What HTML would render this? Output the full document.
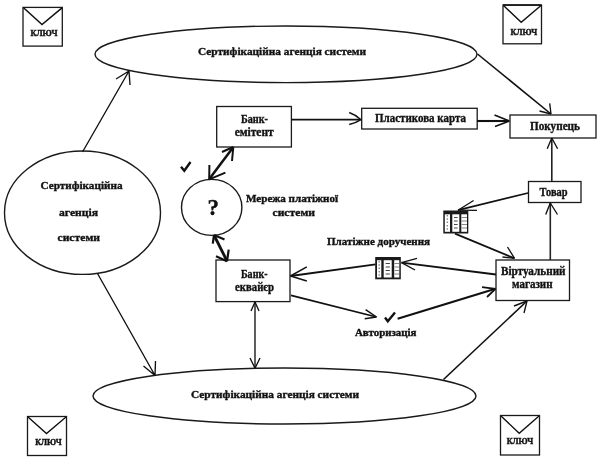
<!DOCTYPE html>
<html lang="uk">
<head>
<meta charset="utf-8">
<title>Схема платіжної системи</title>
<style>
html,body{margin:0;padding:0;background:#fff;}
body{width:600px;height:459px;overflow:hidden;}
svg{display:block;will-change:transform;}
text{font-family:"Liberation Serif",serif;font-weight:bold;font-size:11.5px;fill:#111;stroke:#111;stroke-width:0.35;}
.ln{stroke:#111;fill:none;stroke-width:1.35;}
.ln2{stroke:#111;fill:none;stroke-width:1.8;}
.ln3{stroke:#111;fill:none;stroke-width:2.5;}
.bx{stroke:#1a1a1a;fill:#fff;stroke-width:1.3;}
.el{stroke:#1a1a1a;fill:none;stroke-width:1.4;}
</style>
</head>
<body>
<svg width="600" height="459" viewBox="0 0 600 459">
<rect x="0" y="0" width="600" height="459" fill="#fff"/>

<!-- ellipses -->
<ellipse class="el" cx="286" cy="54.3" rx="191" ry="28.3"/>
<ellipse class="el" cx="284.500" cy="396" rx="191.500" ry="28"/>
<ellipse class="el" cx="82.5" cy="212.7" rx="78" ry="61.7"/>
<ellipse class="el" cx="211.7" cy="207.4" rx="30.2" ry="28"/>

<!-- envelopes -->
<g id="envTL">
<rect class="bx" x="23" y="7.400" width="39.300" height="38.700"/>
<polyline class="ln" style="stroke-width:1.5" points="23.500,7.800 42,24.500 62,7.800"/>
<text x="44" y="36" text-anchor="middle" textLength="27" lengthAdjust="spacingAndGlyphs" style="font-size:9px;stroke-width:0.45">КЛЮЧ</text>
</g>
<g id="envTR">
<rect class="bx" x="503" y="5.100" width="38.500" height="38.700"/><path class="ln" d="M503,5 H541.500"/>
<polyline class="ln" style="stroke-width:1.4" points="503.500,5.500 521.200,22.300 541,5.500"/>
<text x="523.800" y="34.800" text-anchor="middle" textLength="26.500" lengthAdjust="spacingAndGlyphs" style="font-size:9px;stroke-width:0.45">КЛЮЧ</text>
</g>
<g id="envBL">
<rect class="bx" x="27.500" y="416.500" width="39" height="39"/>
<polyline class="ln" points="28,417 46.5,433.5 66,417"/>
<text x="48.500" y="445" text-anchor="middle" textLength="26.500" lengthAdjust="spacingAndGlyphs" style="font-size:9px;stroke-width:0.45">КЛЮЧ</text>
</g>
<g id="envBR">
<rect class="bx" x="500.500" y="415.500" width="39" height="39.500"/>
<polyline class="ln" points="501,416 519.200,433.300 539,416"/>
<text x="520" y="443.500" text-anchor="middle" textLength="26.500" lengthAdjust="spacingAndGlyphs" style="font-size:9px;stroke-width:0.45">КЛЮЧ</text>
</g>

<!-- boxes -->
<rect class="bx" x="216.700" y="106.500" width="74.700" height="40.500"/>
<rect class="bx" x="361.700" y="108.300" width="115.500" height="20.700"/>
<rect class="bx" x="510" y="115" width="86" height="23"/>
<rect class="bx" x="528.500" y="181.500" width="52.500" height="21"/>
<rect class="bx" x="496" y="260" width="73.5" height="40.5"/>
<rect class="bx" x="216" y="260" width="74" height="41.600"/>

<!-- lines with arrows -->
<!-- left ellipse -> top ellipse -->
<path class="ln" d="M82.5,152 L129,71 M129,71 L116,79 M129,71 L130,85"/>
<!-- left ellipse -> bottom ellipse -->
<path class="ln" d="M97.500,273.500 L155,375.500 M155,375.500 L143.500,366 M155,375.500 L155.500,361"/>
<!-- bank-emitent -> plastic card -->
<path class="ln2" d="M291,119.700 L360.500,119.700"/><path class="ln" style="stroke-width:1.4" d="M349.200,112.500 Q356,115 361,119.700 Q356,123 349.200,124.500"/>
<!-- plastic -> buyer -->
<path class="ln2" style="stroke-width:2.1" d="M477,121 L509,121"/><path class="ln2" style="stroke-width:1.6" d="M509.400,121 L494.500,115 M509.400,121 L495,126.500"/>
<!-- top ellipse -> buyer -->
<path class="ln2" style="stroke-width:1.6" d="M477.500,54 L551,114"/><path class="ln" d="M551,114 L539.500,111 M551,114 L549.700,103.400"/>
<!-- tovar -> buyer -->
<path class="ln2" style="stroke-width:1.6;stroke:#222" d="M551.800,181 L551.800,138"/><path class="ln" d="M551.800,138 L547.200,148.700 M551.800,138 L557.600,148.700"/>
<!-- shop -> tovar -->
<path class="ln2" style="stroke-width:1.6;stroke:#222" d="M550.300,260 L550.300,203"/><path class="ln" d="M550.300,203 L545.700,214.500 M550.300,203 L557.500,214.500"/>
<!-- tovar -> icon1 -->
<path class="ln2" d="M528,193 L458,210.200"/><path class="ln" d="M458,210.200 L473.600,200.500 M458,210.200 L477,210.300"/>
<!-- icon1 -> shop -->
<path class="ln2" d="M455,233.700 L514.500,258.300"/><path class="ln" d="M514.500,258.300 L502.500,257 M514.500,258.300 L507.500,247"/>
<!-- shop -> icon2 -->
<path class="ln2" d="M496,274.500 L401.500,262.600"/><path class="ln" d="M401.500,262.600 L417,258.400 M401.500,262.600 L415,270"/>
<!-- icon2 -> bank acq -->
<path class="ln2" d="M375.600,264.300 L290.500,276"/><path class="ln" style="stroke-width:1.5" d="M290.500,276 L306.800,266.800 M290.500,276 L306.800,281"/>
<!-- bank acq -> check -->
<path class="ln2" d="M291,295.300 L376.500,317"/><path class="ln" style="stroke-width:1.5" d="M376.500,317 L364.700,318.800 M376.500,317 L365.600,309.600"/>
<!-- check -> shop -->
<path class="ln2" style="stroke-width:2.1" d="M397.600,318.800 L495.500,288.800"/><path class="ln2" d="M495.500,288.800 L482,287.200 M495.500,288.800 L487,297"/>
<!-- bottom ellipse -> shop -->
<path class="ln2" style="stroke-width:1.6" d="M443.500,379.500 L527,301"/><path class="ln" d="M527,301 L514,306 M527,301 L524,313"/>
<!-- bank acq <-> bottom ellipse -->
<path class="ln" d="M255,302 L255,368"/><path class="ln" d="M255,302 L251,311 M255,302 L259,311 M255,368.300 L250,358 M255,368.300 L260,358"/>
<!-- thick double arrows -->
<path class="ln3" d="M233,147.500 L209.300,179"/><path class="ln2" style="stroke-width:2" d="M233.300,147 L222,152 M233.300,147 L232,161 M209.200,179.400 L209.400,165 M209.200,179.400 L225.400,172.700"/>
<path class="ln3" style="stroke-width:2.8" d="M214.200,235.500 L227,261"/><path class="ln2" style="stroke-width:2.2" d="M214,235 L212.800,243.700 M214,235 L224.500,239.500 M227,261.300 L216,256.300 M227,261.300 L228.700,249.600"/>

<!-- check marks -->
<path class="ln3" style="stroke-width:2.4" d="M181,166.800 L184.300,170.800 L190.500,162"/>
<path class="ln3" style="stroke-width:2.4" d="M385,317.500 L387.800,321.300 L395,312.500"/>

<!-- icons -->
<g id="icon1">
<rect x="443.300" y="210.500" width="25" height="23" fill="#1a1a1a"/>
<rect x="444.800" y="214.300" width="5.200" height="17.500" fill="#fff"/>
<rect x="452.300" y="214.300" width="7" height="17.500" fill="#fff"/>
<rect x="461.300" y="214.300" width="5.700" height="17.500" fill="#fff"/>
<path d="M447.300,215 V231.500" stroke="#888" stroke-width="1.400" stroke-dasharray="1.500 1.800" fill="none"/>
<path d="M454,217.500 H457.600 M454,221 H457.600 M454,224.500 H457.600 M454,228 H457.600" stroke="#444" stroke-width="1.100" fill="none"/>
<path d="M461.500,217.500 H467 M461.500,221 H467 M461.500,224.500 H467 M461.500,228 H467" stroke="#777" stroke-width="0.900" fill="none"/>
</g>
<g id="icon2">
<rect x="375.200" y="257" width="25.600" height="22.300" fill="#1a1a1a"/>
<rect x="377" y="260.200" width="4.300" height="17.300" fill="#fff"/>
<rect x="383.700" y="260.200" width="8" height="17.300" fill="#fff"/>
<rect x="394.200" y="260.200" width="5.100" height="17.300" fill="#fff"/>
<path d="M379.200,261 V277" stroke="#888" stroke-width="1.400" stroke-dasharray="1.500 1.800" fill="none"/>
<path d="M385.600,263.500 H389.900 M385.600,267 H389.900 M385.600,270.500 H389.900 M385.600,274 H389.900" stroke="#444" stroke-width="1.100" fill="none"/>
<path d="M394.500,263.500 H399 M394.500,267 H399 M394.500,270.500 H399 M394.500,274 H399" stroke="#777" stroke-width="0.900" fill="none"/>
</g>

<!-- labels -->
<text x="198" y="54.700" textLength="168" lengthAdjust="spacingAndGlyphs" style="font-size:10.700px">Сертифікаційна агенція системи</text>
<text x="191" y="398.200" textLength="168" lengthAdjust="spacingAndGlyphs" style="font-size:10.700px">Сертифікаційна агенція системи</text>

<text x="40.500" y="189.200" textLength="82" lengthAdjust="spacingAndGlyphs" style="font-size:10.700px">Сертифікаційна</text>
<text x="59" y="215.600" textLength="39" lengthAdjust="spacingAndGlyphs" style="font-size:10.700px">агенція</text>
<text x="57.500" y="241.100" textLength="42.500" lengthAdjust="spacingAndGlyphs" style="font-size:10.700px">системи</text>

<text x="241" y="122.800" textLength="27" lengthAdjust="spacingAndGlyphs">Банк-</text>
<text x="234.700" y="136.300" textLength="39" lengthAdjust="spacingAndGlyphs">емітент</text>

<text x="375" y="122" textLength="91" lengthAdjust="spacingAndGlyphs">Пластикова карта</text>
<text x="530" y="130" textLength="50" lengthAdjust="spacingAndGlyphs">Покупець</text>
<text x="539.500" y="195.500" textLength="28" lengthAdjust="spacingAndGlyphs">Товар</text>

<text x="501" y="275" textLength="64.500" lengthAdjust="spacingAndGlyphs">Віртуальний</text>
<text x="512" y="288" textLength="40.500" lengthAdjust="spacingAndGlyphs">магазин</text>

<text x="241" y="278" textLength="26.500" lengthAdjust="spacingAndGlyphs">Банк-</text>
<text x="235" y="291" textLength="39" lengthAdjust="spacingAndGlyphs">еквайєр</text>

<text x="246" y="202" textLength="92" lengthAdjust="spacingAndGlyphs" style="font-size:10.500px">Мережа платіжної</text>
<text x="272.500" y="215.700" textLength="42.500" lengthAdjust="spacingAndGlyphs" style="font-size:10.500px">системи</text>

<text x="327" y="245" textLength="103" lengthAdjust="spacingAndGlyphs" style="font-size:10.500px">Платіжне доручення</text>
<text x="355" y="336" textLength="61.500" lengthAdjust="spacingAndGlyphs" style="font-size:10px">Авторизація</text>

<text x="213.300" y="215" text-anchor="middle" style="font-size:23px">?</text>
</svg>
</body>
</html>
